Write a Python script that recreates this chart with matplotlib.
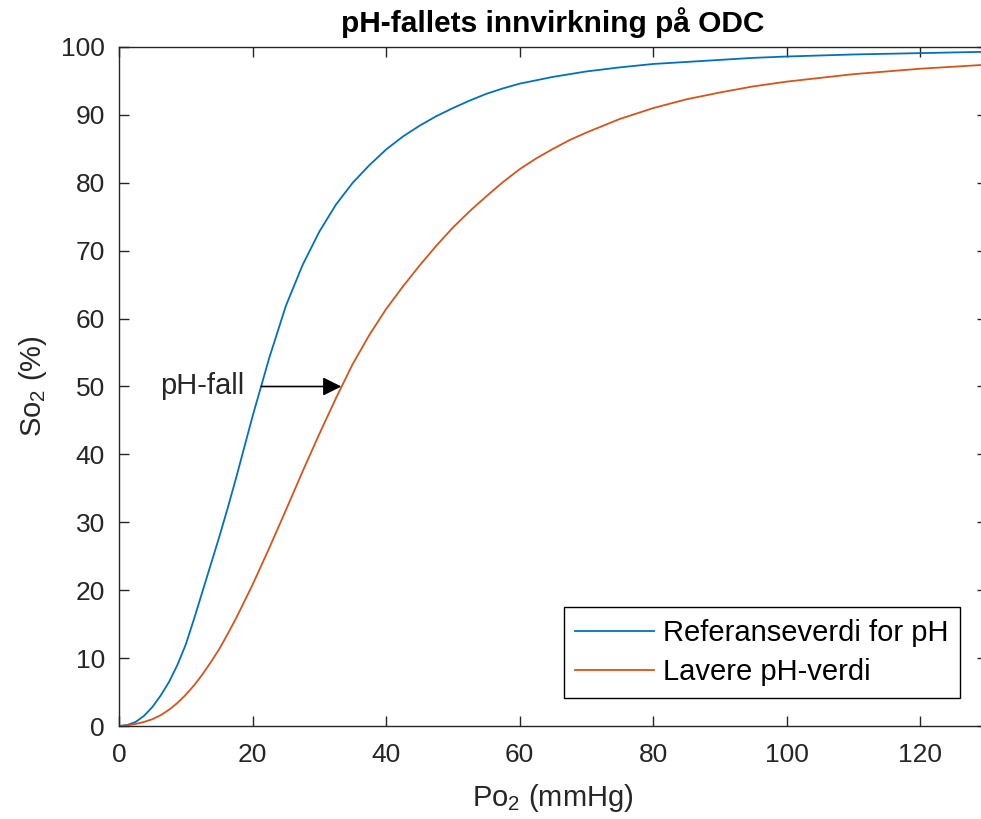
import numpy as np
import matplotlib
matplotlib.use('Agg')
import matplotlib.pyplot as plt

# Po2 (mmHg) values the curves were read at
po2 = [0, 1.25, 2.5, 3.75, 5, 6.25, 7.5, 8.75, 10, 11.25, 12.5, 13.75, 15,
       16.25, 17.5, 18.75, 20, 22.5, 25, 27.5, 30, 32.5, 35, 37.5, 40, 42.5,
       45, 47.5, 50, 52.5, 55, 57.5, 60, 62.5, 65, 67.5, 70, 75, 80, 85, 90,
       95, 100, 110, 120, 130]

# So2 (%)
so2_ref = [0.0, 0.15, 0.6, 1.5, 2.8, 4.5, 6.5, 9.0, 12.0, 15.8, 19.8, 23.8,
           27.8, 32.0, 36.4, 41.0, 45.6, 54.2, 61.9, 67.9, 72.8, 76.8, 80.0,
           82.6, 84.9, 86.8, 88.4, 89.8, 91.0, 92.1, 93.1, 93.9, 94.6, 95.1,
           95.6, 96.0, 96.4, 97.0, 97.5, 97.8, 98.1, 98.4, 98.6, 98.9, 99.1,
           99.3]
so2_low = [0.0, 0.1, 0.3, 0.6, 1.0, 1.6, 2.4, 3.4, 4.6, 6.0, 7.6, 9.4, 11.3,
           13.5, 15.8, 18.3, 20.8, 26.2, 31.8, 37.5, 43.0, 48.3, 53.3, 57.6,
           61.4, 64.7, 67.8, 70.7, 73.4, 75.8, 78.0, 80.1, 82.0, 83.6, 85.0,
           86.3, 87.4, 89.4, 91.0, 92.3, 93.3, 94.2, 94.9, 96.0, 96.8, 97.4]

labels = ['Referanseverdi for pH', 'Lavere pH-verdi']
xticks = [0, 20, 40, 60, 80, 100, 120]
yticks = list(range(0, 101, 10))

plt.rcParams['font.family'] = ['Liberation Sans', 'DejaVu Sans']
plt.rcParams['mathtext.fontset'] = 'custom'
plt.rcParams['mathtext.rm'] = 'Liberation Sans'
plt.rcParams['mathtext.it'] = 'Liberation Sans'

fig = plt.figure(figsize=(9.81, 8.19), dpi=100)
ax = fig.add_axes([119/981, 93/819, 868/981, 679/819])

ax.plot(po2, so2_ref, color='#0072BD', lw=1.3, label=labels[0])
ax.plot(po2, so2_low, color='#D95319', lw=1.3, label=labels[1])

ax.annotate('', xy=(33.3, 50), xytext=(21.3, 50),
            arrowprops=dict(arrowstyle='-|>', color='k', lw=1.2,
                            mutation_scale=28, shrinkA=0, shrinkB=0))
ax.text(18.8, 50, 'pH-fall', ha='right', va='center', fontsize=21,
        color='#262626')

ax.set_xlim(0, 130)
ax.set_ylim(0, 100)
ax.set_xticks(xticks)
ax.set_yticks(yticks)
ax.tick_params(direction='in', length=7, width=1, top=True, right=True,
               labelsize=19, colors='#262626')
ax.tick_params(axis='x', pad=12)
ax.tick_params(axis='y', pad=10)
for s in ax.spines.values():
    s.set_color('#262626')
    s.set_linewidth(1)

ax.set_xlabel('Po$_2$ (mmHg)', fontsize=21, color='#262626', labelpad=11)
ax.set_ylabel('So$_2$ (%)', fontsize=21, color='#262626', labelpad=9)
ax.set_title('pH-fallets innvirkning på ODC', fontsize=21.5,
             fontweight='bold', pad=11)

leg = ax.legend(loc='lower right', bbox_to_anchor=(0.969, 0.041),
                fontsize=21, fancybox=False, edgecolor='k', framealpha=1,
                handlelength=2.7, borderpad=0.4, labelspacing=0.4,
                handletextpad=0.3, borderaxespad=0)
leg.get_frame().set_linewidth(1)

fig.savefig('out.png', dpi=100)
